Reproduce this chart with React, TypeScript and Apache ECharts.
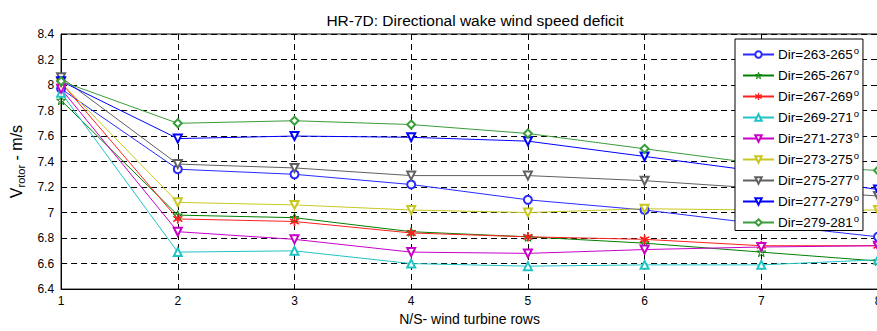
import React, { useEffect, useRef } from "react";
import * as echarts from "echarts";

const rows = [1, 2, 3, 4, 5, 6, 7, 8];
const seriesNames = [
  "Dir=263-265",
  "Dir=265-267",
  "Dir=267-269",
  "Dir=269-271",
  "Dir=271-273",
  "Dir=273-275",
  "Dir=275-277",
  "Dir=277-279",
  "Dir=279-281",
];
const dir263_265 = [7.97, 7.34, 7.3, 7.22, 7.1, 7.02, 6.91, 6.81];
const dir265_267 = [7.88, 6.98, 6.96, 6.85, 6.81, 6.76, 6.69, 6.62];
const dir267_269 = [8.02, 6.95, 6.93, 6.84, 6.81, 6.79, 6.74, 6.74];
const dir269_271 = [7.94, 6.69, 6.7, 6.6, 6.58, 6.59, 6.59, 6.63];
const dir271_273 = [7.97, 6.85, 6.79, 6.69, 6.68, 6.71, 6.73, 6.74];
const dir273_275 = [8.02, 7.08, 7.06, 7.02, 7.0, 7.03, 7.02, 7.02];
const dir275_277 = [8.06, 7.38, 7.35, 7.29, 7.29, 7.25, 7.19, 7.13];
const dir277_279 = [8.03, 7.58, 7.6, 7.59, 7.56, 7.44, 7.32, 7.18];
const dir279_281 = [8.03, 7.7, 7.72, 7.69, 7.62, 7.5, 7.38, 7.33];
const yTicks = [6.4, 6.6, 6.8, 7, 7.2, 7.4, 7.6, 7.8, 8, 8.2, 8.4];

const allValues = [
  dir263_265, dir265_267, dir267_269, dir269_271, dir271_273,
  dir273_275, dir275_277, dir277_279, dir279_281,
];
const colors = [
  "#2a2aff", "#008000", "#ff2020", "#20c4c4", "#c800c8",
  "#c8c820", "#606060", "#0000ff", "#3a9e3a",
];

const pentagram =
  "path://M10 0 L12.245 6.91 L19.51 6.91 L13.63 11.18 L15.88 18.09 L10 13.82 L4.12 18.09 L6.37 11.18 L0.49 6.91 L7.755 6.91 Z";
const asterisk =
  "path://M9.3 0 L10.7 0 L10.7 8.3 L17.9 4.1 L18.6 5.3 L11.4 9.5 L11.4 10.5 L18.6 14.7 L17.9 15.9 L10.7 11.7 L10.7 20 L9.3 20 L9.3 11.7 L2.1 15.9 L1.4 14.7 L8.6 10.5 L8.6 9.5 L1.4 5.3 L2.1 4.1 L9.3 8.3 Z";

const symbols = [
  "emptyCircle", pentagram, asterisk, "emptyTriangle", "emptyTriangle",
  "emptyTriangle", "emptyTriangle", "emptyTriangle", "emptyDiamond",
];
const rotates = [0, 0, 0, 0, 180, 180, 180, 180, 0];

export default function App() {
  const ref = useRef<HTMLDivElement>(null);
  useEffect(() => {
    if (!ref.current) return;
    const chart = echarts.init(ref.current, null, { renderer: "svg" });
    const font = "Liberation Sans, Arial, Helvetica, sans-serif";
    chart.setOption({
      animation: false,
      backgroundColor: "#fff",
      textStyle: { fontFamily: font },
      title: {
        text: "HR-7D: Directional wake wind speed deficit",
        left: 470,
        textAlign: "center",
        top: 7,
        textStyle: { fontFamily: font, fontSize: 15.5, fontWeight: "normal", color: "#000" },
      },
      grid: {
        left: 61,
        top: 34,
        width: 817,
        height: 260,
        show: true,
        borderColor: "#000",
        borderWidth: 1,
        backgroundColor: "transparent",
      },
      legend: {
        orient: "vertical",
        left: 735,
        top: 39,
        padding: [6, 4, 1, 7],
        itemGap: 4.5,
        itemWidth: 31,
        itemHeight: 8,
        backgroundColor: "#fff",
        borderColor: "#000",
        borderWidth: 1,
        itemStyle: { borderWidth: 1 },
        data: seriesNames,
        formatter: (n: string) => n + "{sup|o}",
        textStyle: {
          fontFamily: font,
          fontSize: 13.5,
          color: "#000",
          padding: [0, 0, 0, -1],
          rich: {
            sup: { fontSize: 9.5, fontFamily: font, color: "#000", padding: [0, 0, 9, 1] },
          },
        },
      },
      xAxis: {
        type: "value",
        min: 1,
        max: 8,
        interval: 1,
        name: "N/S- wind turbine rows",
        nameLocation: "middle",
        nameGap: 22,
        nameTextStyle: { fontFamily: font, fontSize: 14, color: "#000" },
        axisLine: { show: true, onZero: false, lineStyle: { color: "#000" } },
        axisTick: { show: true, inside: true, length: 5, lineStyle: { color: "#000" } },
        axisLabel: { fontFamily: font, fontSize: 12, color: "#000", margin: 6 },
        splitLine: { show: true, lineStyle: { color: "#000", type: [6, 4], width: 1 } },
      },
      yAxis: {
        type: "value",
        min: 6.4,
        max: 8.4,
        interval: 0.2,
        name: "V{sub|rotor} - m/s",
        nameLocation: "middle",
        nameGap: 33,
        nameTextStyle: {
          fontFamily: font,
          fontSize: 16,
          color: "#000",
          rich: { sub: { fontSize: 11, fontFamily: font, color: "#000", padding: [10, 0, 0, 0] } },
        },
        axisLine: { show: true, lineStyle: { color: "#000" } },
        axisTick: { show: true, inside: true, length: 5, lineStyle: { color: "#000" } },
        axisLabel: {
          fontFamily: font,
          fontSize: 12,
          color: "#000",
          margin: 7,
          formatter: (v: number) => String(Number(v.toFixed(1))),
        },
        splitLine: { show: true, lineStyle: { color: "#000", type: [6, 4], width: 1 } },
      },
      series: allValues.map((vals, i) => ({
        name: seriesNames[i],
        type: "line",
        data: vals.map((v, j) => [rows[j], v]),
        symbol: symbols[i],
        symbolSize: i === 1 || i === 2 ? 9 : 8,
        symbolRotate: rotates[i],
        showAllSymbol: true,
        color: colors[i],
        lineStyle: { color: colors[i], width: 1 },
        itemStyle:
          i === 1
            ? { color: "rgba(255,255,255,0)", borderColor: colors[i], borderWidth: 1 }
            : { color: colors[i], borderColor: colors[i], borderWidth: 1 },
        emphasis: { disabled: true },
      })),
    });
    return () => chart.dispose();
  }, []);
  return (
    <div
      style={{
        position: "fixed",
        left: 0,
        top: 0,
        width: 877,
        height: 331,
        overflow: "hidden",
        background: "#fff",
      }}
    >
      <div ref={ref} style={{ width: 900, height: 331 }} />
    </div>
  );
}
